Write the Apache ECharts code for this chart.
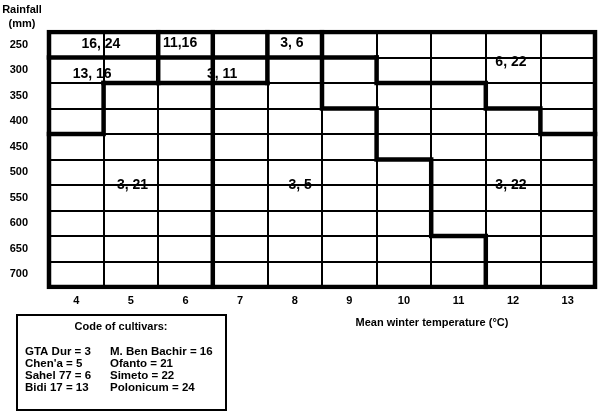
<!DOCTYPE html>
<html>
<head>
<meta charset="utf-8">
<script src="https://cdn.jsdelivr.net/npm/echarts@6/dist/echarts.min.js"></script>
<style>
  html, body { margin: 0; padding: 0; background: #fff; }
  #chart { width: 599px; height: 416px; }
</style>
</head>
<body>
<div id="chart"></div>
<script>
// axis categories
var temps = ['4', '5', '6', '7', '8', '9', '10', '11', '12', '13'];
var rainfall = ['250', '300', '350', '400', '450', '500', '550', '600', '650', '700'];

// cultivar codes written inside each zone, with their place in cell units
var zoneLabels = ['16, 24', '11,16', '3, 6', '13, 16', '3, 11', '6, 22', '3, 21', '3, 5', '3, 22'];
var zoneCol = [0.95, 2.4, 4.45, 0.79, 3.17, 8.46, 1.53, 4.6, 8.46];
var zoneRow = [0.47, 0.45, 0.45, 1.65, 1.65, 1.18, 6.0, 6.0, 6.0];

// thick zone borders, as cell-edge coordinates [column, row]
var borders = [
  [[0, 0], [10, 0], [10, 10], [0, 10], [0, 0]],
  [[0, 1], [6, 1]],
  [[2, 0], [2, 2]],
  [[3, 0], [3, 10]],
  [[4, 0], [4, 2]],
  [[1, 2], [4, 2]],
  [[1, 2], [1, 4], [0, 4]],
  [[5, 0], [5, 3], [6, 3], [6, 5], [7, 5], [7, 8], [8, 8], [8, 10]],
  [[6, 1], [6, 2], [8, 2], [8, 3], [9, 3], [9, 4], [10, 4]]
];

// legend box
var cultivarsLeft = ['GTA Dur = 3', "Chen'a = 5", 'Sahel 77 = 6', 'Bidi 17 = 13'];
var cultivarsRight = ['M. Ben Bachir = 16', 'Ofanto = 21', 'Simeto = 22', 'Polonicum = 24'];

var font = '"Liberation Sans", Arial, sans-serif';
var chart = echarts.init(document.getElementById('chart'));

var series = borders.map(function (b) {
  return {
    type: 'line',
    xAxisIndex: 1,
    yAxisIndex: 1,
    data: b,
    symbol: 'none',
    silent: true,
    lineStyle: { color: '#000', width: 4.5, cap: 'square', join: 'miter' },
    z: 5
  };
});

series.push({
  type: 'scatter',
  xAxisIndex: 1,
  yAxisIndex: 1,
  symbolSize: 0,
  silent: true,
  itemStyle: { opacity: 1 },
  data: zoneLabels.map(function (t, i) {
    return { name: t, value: [zoneCol[i], zoneRow[i]] };
  }),
  label: {
    show: true,
    position: 'inside',
    formatter: '{b}',
    color: '#000',
    opacity: 1,
    textBorderWidth: 0,
    fontFamily: font,
    fontWeight: 'bold',
    fontSize: 14
  },
  z: 6
});

var graphics = [
  {
    type: 'text',
    style: { text: 'Rainfall\n(mm)', x: 22, y: 3, fill: '#000', font: 'bold 11px ' + font, textAlign: 'center', lineHeight: 14 }
  },
  {
    type: 'text',
    style: { text: 'Mean winter temperature (\u00b0C)', x: 432, y: 323, fill: '#000', font: 'bold 11px ' + font, textAlign: 'center', textVerticalAlign: 'middle' }
  },
  {
    type: 'rect',
    shape: { x: 17, y: 315, width: 209, height: 95 },
    style: { fill: '#fff', stroke: '#000', lineWidth: 2 }
  },
  {
    type: 'text',
    style: { text: 'Code of cultivars:', x: 121, y: 327, fill: '#000', font: 'bold 11px ' + font, textAlign: 'center', textVerticalAlign: 'middle' }
  }
];
cultivarsLeft.forEach(function (t, i) {
  graphics.push({ type: 'text', style: { text: t, x: 25, y: 352 + 12 * i, fill: '#000', font: 'bold 11.5px ' + font, textVerticalAlign: 'middle' } });
});
cultivarsRight.forEach(function (t, i) {
  graphics.push({ type: 'text', style: { text: t, x: 110, y: 352 + 12 * i, fill: '#000', font: 'bold 11.5px ' + font, textVerticalAlign: 'middle' } });
});

chart.setOption({
  animation: false,
  backgroundColor: '#fff',
  grid: { left: 49, right: 4, top: 32, bottom: 129 },
  xAxis: [
    {
      type: 'category',
      data: temps,
      boundaryGap: true,
      axisLine: { show: false },
      axisTick: { show: false },
      axisLabel: { color: '#000', fontFamily: font, fontWeight: 'bold', fontSize: 11, margin: 8 },
      splitLine: { show: true, interval: 0, lineStyle: { color: '#000', width: 2 } }
    },
    { type: 'value', min: 0, max: 10, show: false }
  ],
  yAxis: [
    {
      type: 'category',
      data: rainfall,
      inverse: true,
      boundaryGap: true,
      axisLine: { show: false },
      axisTick: { show: false },
      axisLabel: { color: '#000', fontFamily: font, fontWeight: 'bold', fontSize: 11, margin: 21 },
      splitLine: { show: true, interval: 0, lineStyle: { color: '#000', width: 2 } }
    },
    { type: 'value', min: 0, max: 10, inverse: true, show: false }
  ],
  series: series,
  graphic: graphics
});
</script>
</body>
</html>
